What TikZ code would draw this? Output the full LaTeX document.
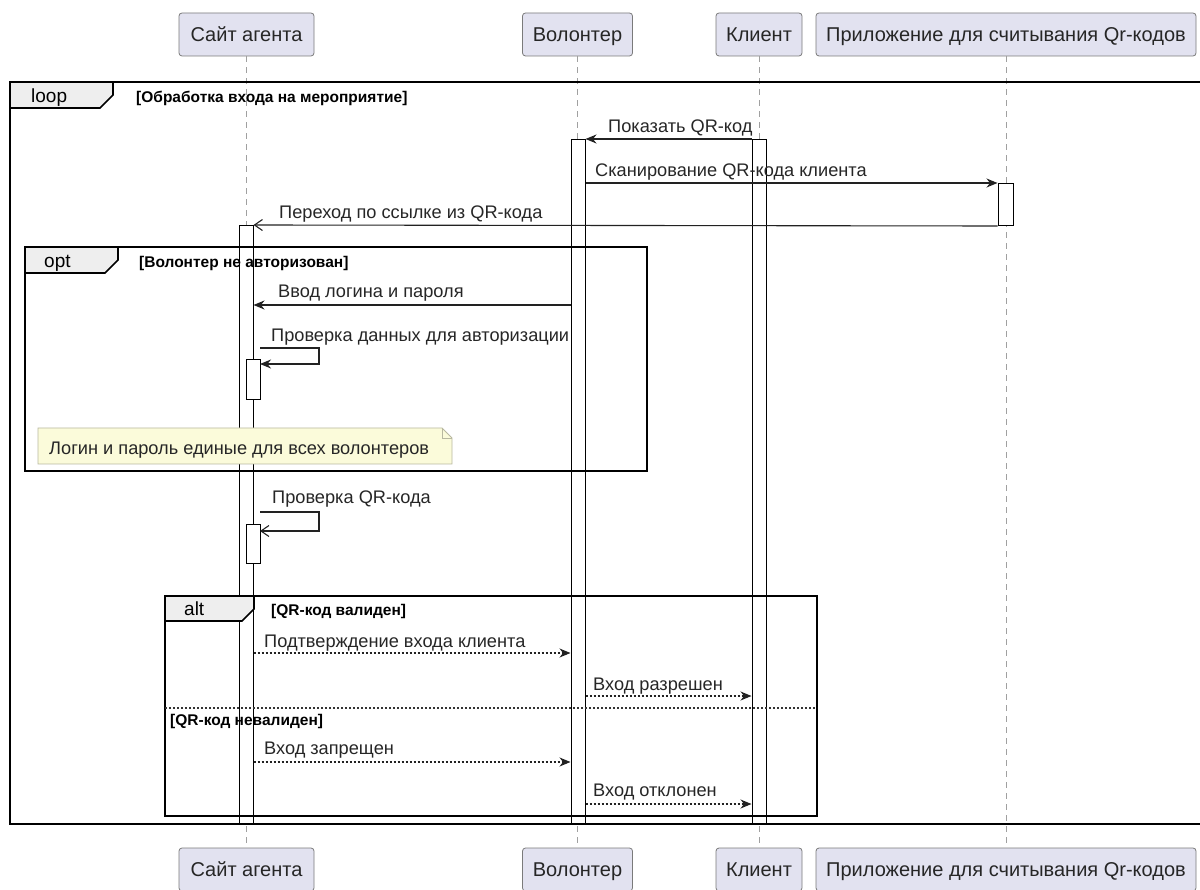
\documentclass[tikz,border=0pt]{standalone}
\usepackage{fontspec}
\setmainfont{Liberation Sans}
\usetikzlibrary{arrows.meta}
\definecolor{partfill}{HTML}{E2E2F0}
\definecolor{partdraw}{HTML}{7A7A7A}
\definecolor{notefill}{HTML}{FBFBDA}
\definecolor{notedraw}{HTML}{B8B8A0}
\definecolor{tabfill}{HTML}{EEEEEE}
\definecolor{msgc}{HTML}{222222}
\definecolor{lifec}{HTML}{A0A0A0}
\tikzset{
  part/.style={draw=partdraw, fill=partfill, rounded corners=3pt, line width=0.8pt,
    minimum height=43pt, inner sep=0pt, font=\fontsize{20}{22}\selectfont, text=black!85,
    text height=14.5pt, text depth=0pt},
  lifeline/.style={draw=lifec, line width=0.9pt, dash pattern=on 6pt off 5pt},
  actbar/.style={draw=black, fill=white, line width=1pt, anchor=north, minimum width=14pt, inner sep=0pt},
  frm/.style={draw=black, line width=2pt},
  tabshape/.style={draw=black, fill=tabfill, line width=1.6pt},
  tabtxt/.style={anchor=west, inner sep=0pt, font=\fontsize{19}{21}\selectfont, text height=13pt, text depth=0pt},
  condtxt/.style={anchor=west, inner sep=0pt, font=\fontsize{15.5}{17}\bfseries\selectfont, text height=11pt, text depth=0pt},
  lbl/.style={anchor=west, inner sep=0pt, font=\fontsize{18.2}{20}\selectfont, text height=13pt, text depth=0pt, text=black!85},
  sync/.style={draw=msgc, line width=1.1pt, -{Stealth[length=11pt,width=9pt,inset=3.5pt]}},
  openarr/.style={draw=msgc, line width=1.1pt, -{Straight Barb[length=8pt,width=11pt]}},
  reply/.style={draw=msgc, line width=1.1pt, dash pattern=on 2pt off 2pt, -{Stealth[length=11pt,width=9pt,inset=3.5pt]}},
  sepline/.style={draw=black!80, line width=1.2pt, dash pattern=on 2pt off 2pt},
}
\begin{document}
\begin{tikzpicture}[x=1pt,y=-1pt]
\useasboundingbox (0,0) rectangle (1200,890);
\clip (0,0) rectangle (1200,890);

% participants
\node[part, minimum width=135pt] (siteT) at (246.5,34.5) {Сайт агента};
\node[part, minimum width=110pt] (volT) at (577.5,34.5) {Волонтер};
\node[part, minimum width=86pt] (cliT) at (759,34.5) {Клиент};
\node[part, minimum width=380pt] (appT) at (1006,34.5) {Приложение для считывания Qr-кодов};
\node[part, minimum width=135pt] (siteB) at (246.5,869.5) {Сайт агента};
\node[part, minimum width=110pt] (volB) at (577.5,869.5) {Волонтер};
\node[part, minimum width=86pt] (cliB) at (759,869.5) {Клиент};
\node[part, minimum width=380pt] (appB) at (1006,869.5) {Приложение для считывания Qr-кодов};

% lifelines
\draw[lifeline] (siteT.south) -- (siteB.north);
\draw[lifeline] (volT.south) -- (volB.north);
\draw[lifeline] (cliT.south) -- (cliB.north);
\draw[lifeline] (appT.south) -- (appB.north);

% activation bars
\node[actbar, minimum height=685pt] (volBar) at (578,139) {};
\node[actbar, minimum height=685pt] (cliBar) at (759,139) {};
\node[actbar, minimum height=42pt, minimum width=15pt] (appBar) at (1005.5,183) {};
\node[actbar, minimum height=599pt] (siteBar) at (246,225) {};
\node[actbar, minimum height=40pt] (siteAct1) at (253,359) {};
\node[actbar, minimum height=39pt] (siteAct2) at (253,524) {};

% loop frame
\draw[frm] (10,82) rectangle (1210,824);
\draw[tabshape] (10,82) -- (113,82) -- (113,95) -- (100,108) -- (10,108) -- cycle;
\node[tabtxt] (loopT) at (31,96) {loop};
\node[condtxt] (loopC) at (136,97) {[Обработка входа на мероприятие]};

% opt frame
\draw[frm] (25,247) rectangle (647,471);
\draw[tabshape] (25,247) -- (118,247) -- (118,260) -- (105,273) -- (25,273) -- cycle;
\node[tabtxt] (optT) at (44,261) {opt};
\node[condtxt] (optC) at (139,262) {[Волонтер не авторизован]};

% alt frame
\draw[frm] (165,596) rectangle (817,816);
\draw[tabshape] (165,596) -- (254,596) -- (254,609) -- (242,621) -- (165,621) -- cycle;
\node[tabtxt] (altT) at (184,609) {alt};
\node[condtxt] (altC) at (271,610) {[QR-код валиден]};
\coordinate (sepL) at (165,708);
\coordinate (sepR) at (817,708);
\draw[sepline] (sepL) -- (sepR);
\node[condtxt] (altC2) at (170,720) {[QR-код невалиден]};

% note
\draw[draw=notedraw, fill=notefill, line width=0.8pt] (38,428) -- (442,428) -- (452,438) -- (452,464) -- (38,464) -- cycle;
\draw[draw=notedraw, line width=0.8pt] (442,428) -- (442,438) -- (452,438);
\node[lbl] (noteT) at (49,448) {Логин и пароль единые для всех волонтеров};

% y levels
\coordinate (y305) at (0,305);
\coordinate (y653) at (0,653);
\coordinate (y696) at (0,696);
\coordinate (y762) at (0,762);
\coordinate (y804) at (0,804);

% messages
\draw[sync] (cliBar.north west) -- (volBar.north east);
\node[lbl] (t1) at (608,126) {Показать QR-код};

\draw[sync] (appBar.north west -| volBar.east) -- (appBar.north west);
\node[lbl] (t2) at (595,170) {Сканирование QR-кода клиента};

\draw[openarr] (appBar.south west) -- (siteBar.north east);
\node[lbl] (t3) at (279,212) {Переход по ссылке из QR-кода};

\draw[sync] (volBar.west |- y305) -- (siteBar.east |- y305);
\node[lbl] (t4) at (278,291) {Ввод логина и пароля};

\coordinate (s1a) at (260,348);
\coordinate (s1b) at (260,364);
\draw[sync] (s1a) -- (319,348) |- (s1b);
\node[lbl] (t5) at (271,335) {Проверка данных для авторизации};

\coordinate (s2a) at (260,512);
\coordinate (s2b) at (260,531);
\draw[openarr] (s2a) -- (319,512) |- (s2b);
\node[lbl] (t6) at (272,497) {Проверка QR-кода};

\draw[reply] (siteBar.east |- y653) -- (volBar.west |- y653);
\node[lbl] (t7) at (264,641) {Подтверждение входа клиента};

\draw[reply] (volBar.east |- y696) -- (cliBar.west |- y696);
\node[lbl] (t8) at (593,684) {Вход разрешен};

\draw[reply] (siteBar.east |- y762) -- (volBar.west |- y762);
\node[lbl] (t9) at (264,748) {Вход запрещен};

\draw[reply] (volBar.east |- y804) -- (cliBar.west |- y804);
\node[lbl] (t10) at (593,790) {Вход отклонен};
\end{tikzpicture}
\end{document}
